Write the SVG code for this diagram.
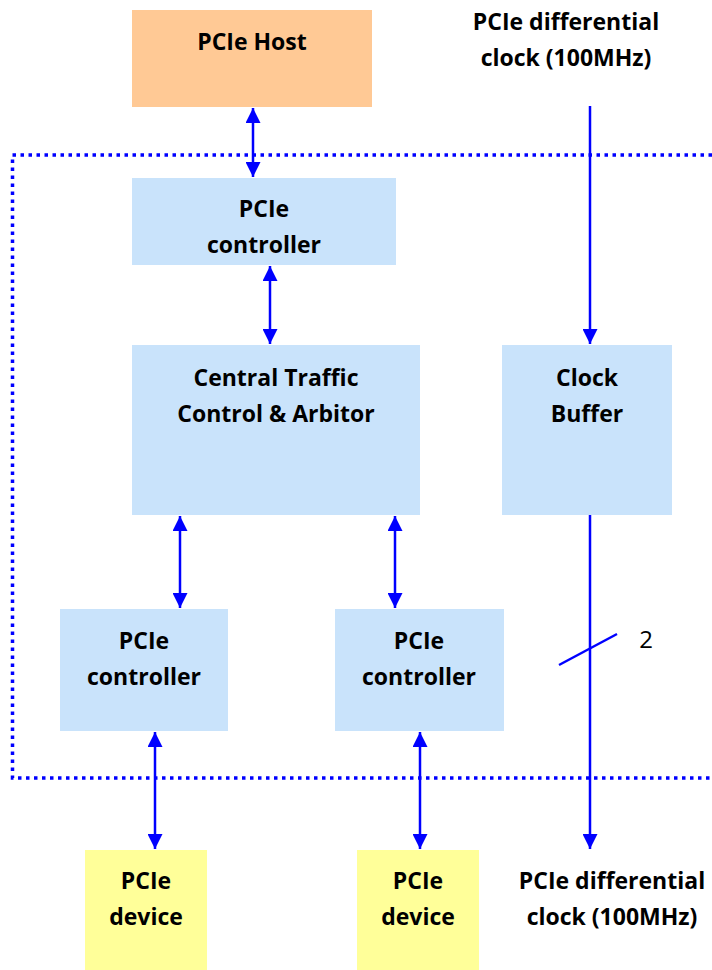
<svg xmlns="http://www.w3.org/2000/svg" width="712" height="970" viewBox="0 0 712 970">
<defs>
<marker id="ah" viewBox="0 0 10 10" refX="10" refY="5" markerWidth="6" markerHeight="6" markerUnits="strokeWidth" orient="auto-start-reverse">
<path d="M0,0 L10,5 L0,10 z" fill="#0000FF"/>
</marker>
<style>
.blue{fill:#C9E3FB}
.host{fill:#FFC995}
.dev{fill:#FFFF99}
.t{font-family:"Open Sans","Liberation Sans",sans-serif;font-weight:bold;font-size:23px;fill:#000;text-anchor:middle}
.c{stroke:#0000FF;stroke-width:2.5;fill:none}
.d{stroke:#0000FF;stroke-width:3.5;fill:none;stroke-dasharray:3.5 4.5}
</style>
</defs>
<rect width="712" height="970" fill="#fff"/>
<path class="d" d="M712 155 H12.5 V778 H712"/>
<g id="host"><rect class="host" x="132" y="10" width="240" height="97"/><text class="t" x="252" y="50">PCIe Host</text></g>
<g id="clkin"><text class="t" x="566" y="30">PCIe differential</text><text class="t" x="566" y="66">clock (100MHz)</text></g>
<g id="ctrl_top"><rect class="blue" x="132" y="178" width="264" height="87"/><text class="t" x="264" y="217">PCIe</text><text class="t" x="264" y="253">controller</text></g>
<g id="ctca"><rect class="blue" x="132" y="345" width="288" height="170"/><text class="t" x="276" y="386">Central Traffic</text><text class="t" x="276" y="422">Control &amp; Arbitor</text></g>
<g id="clkbuf"><rect class="blue" x="502" y="345" width="170" height="170"/><text class="t" x="587" y="386">Clock</text><text class="t" x="587" y="422">Buffer</text></g>
<g id="ctrl_l"><rect class="blue" x="60" y="609" width="168" height="122"/><text class="t" x="144" y="649">PCIe</text><text class="t" x="144" y="685">controller</text></g>
<g id="ctrl_r"><rect class="blue" x="335" y="609" width="169" height="122"/><text class="t" x="419" y="649">PCIe</text><text class="t" x="419" y="685">controller</text></g>
<g id="dev_l"><rect class="dev" x="85" y="850" width="122" height="120"/><text class="t" x="146" y="889">PCIe</text><text class="t" x="146" y="925">device</text></g>
<g id="dev_r"><rect class="dev" x="357" y="850" width="122" height="120"/><text class="t" x="418" y="889">PCIe</text><text class="t" x="418" y="925">device</text></g>
<g id="clkout"><text class="t" x="612" y="889">PCIe differential</text><text class="t" x="612" y="925">clock (100MHz)</text></g>
<g id="connectors">
<line class="c" x1="253" y1="108" x2="253" y2="177" marker-start="url(#ah)" marker-end="url(#ah)"/>
<line class="c" x1="270" y1="266" x2="270" y2="344" marker-start="url(#ah)" marker-end="url(#ah)"/>
<line class="c" x1="180" y1="516" x2="180" y2="608" marker-start="url(#ah)" marker-end="url(#ah)"/>
<line class="c" x1="395" y1="516" x2="395" y2="608" marker-start="url(#ah)" marker-end="url(#ah)"/>
<line class="c" x1="155" y1="732" x2="155" y2="849" marker-start="url(#ah)" marker-end="url(#ah)"/>
<line class="c" x1="420" y1="732" x2="420" y2="849" marker-start="url(#ah)" marker-end="url(#ah)"/>
<line class="c" x1="590" y1="106" x2="590" y2="344" marker-end="url(#ah)"/>
<line class="c" x1="590" y1="515" x2="590" y2="849" marker-end="url(#ah)"/>
<line class="c" x1="559" y1="665" x2="617" y2="634"/>
<text x="646" y="648" style="font-family:'Open Sans','Liberation Sans',sans-serif;font-size:24px;text-anchor:middle;fill:#000">2</text>
</g>
</svg>
